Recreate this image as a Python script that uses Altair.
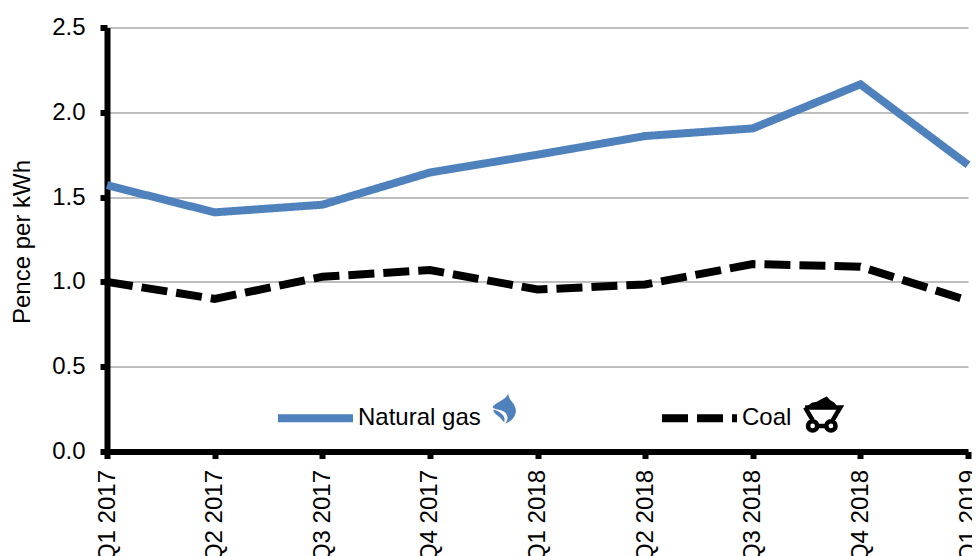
import altair as alt
import pandas as pd

quarters = ["Q1 2017", "Q2 2017", "Q3 2017", "Q4 2017", "Q1 2018", "Q2 2018", "Q3 2018", "Q4 2018", "Q1 2019"]
gas = [1.57, 1.41, 1.455, 1.645, 1.75, 1.86, 1.905, 2.165, 1.69]
coal = [1.0, 0.90, 1.03, 1.07, 0.955, 0.985, 1.105, 1.09, 0.89]
series = ["Natural gas", "Coal"]
colors = ["#4f81bd", "#000000"]
FONT = "Liberation Sans"

df = pd.DataFrame({"q": quarters * 2, "v": gas + coal, "s": ["Natural gas"] * 9 + ["Coal"] * 9})

x = alt.X("q:N", sort=quarters, title=None, scale=alt.Scale(type="point", padding=0),
          axis=alt.Axis(labelAngle=-90, labelAlign="right", labelBaseline="middle", labelFont=FONT,
                        labelFontSize=24, labelColor="#000", labelPadding=11, domainColor="#000", domainWidth=6,
                        tickColor="#000", tickWidth=6, tickSize=7, grid=False, labelOverlap=False, labelFlush=False))
y = alt.Y("v:Q", title="Pence per kWh", scale=alt.Scale(domain=[0, 2.5], nice=False),
          axis=alt.Axis(values=[0, 0.5, 1, 1.5, 2, 2.5], format=".1f", labelFont=FONT, labelFontSize=24,
                        labelColor="#000", labelPadding=15, domainColor="#000", domainWidth=6, tickColor="#000",
                        tickWidth=6, tickSize=7, grid=True, gridColor="#bfbfbf", gridWidth=2,
                        titleFont=FONT, titleFontSize=24, titleFontWeight="normal", titleColor="#000",
                        titlePadding=17, titleY=214))

lines = alt.Chart(df).mark_line(strokeWidth=8, strokeCap="butt", strokeJoin="miter").encode(
    x=x, y=y,
    color=alt.Color("s:N", scale=alt.Scale(domain=series, range=colors), legend=alt.Legend(
        title=None, orient="none", legendX=167, legendY=349, direction="horizontal", columns=2,
        symbolType="stroke", symbolSize=5625, symbolStrokeWidth=8, labelFont=FONT, labelFontSize=24,
        labelColor="#000", labelOffset=1, columnPadding=165)),
    strokeDash=alt.StrokeDash("s:N", scale=alt.Scale(domain=series, range=[[1, 0], [26, 9]]), legend=None),
)

FLAME = ("M0.26,-1.01 C0.2,-0.8 0,-0.65 -0.35,-0.45 C-0.6,-0.3 -0.75,-0.2 -0.75,-0.1 "
         "C-0.6,0.08 0.05,-0.04 0.19,0.43 C0.24,0.6 0.19,0.77 0.06,0.95 "
         "C0.58,0.77 0.85,0.3 0.71,-0.1 C0.6,-0.45 0.25,-0.6 0.26,-1.01 Z "
         "M-0.71,0.03 C-0.67,0.39 -0.28,0.43 -0.02,0.86 C0.13,0.49 -0.17,0.2 -0.71,0.03 Z")
PILE = "M-0.82,-0.36 L-0.82,-0.44 L-0.6,-0.62 L-0.33,-0.67 L-0.09,-0.8 L0.22,-0.95 L0.4,-0.76 L0.64,-0.62 L0.82,-0.4 L0.82,-0.36 Z"
CART = ("M-0.96,-0.36 L0.96,-0.36 L0.55,0.33 M-0.96,-0.36 L-0.55,0.33 "
        "M-0.8,0.65 A0.25,0.25 0 1 0 -0.3,0.65 A0.25,0.25 0 1 0 -0.8,0.65 "
        "M0.2,0.65 A0.25,0.25 0 1 0 0.7,0.65 A0.25,0.25 0 1 0 0.2,0.65 M-0.3,0.65 L0.2,0.65")
one = alt.Data(values=[{"k": 1}])
flame = alt.Chart(one).mark_point(shape=FLAME, filled=True, color="#4f81bd", size=961, opacity=1).encode(
    x=alt.value(397.3), y=alt.value(381.5))
pile = alt.Chart(one).mark_point(shape=PILE, filled=True, color="#000", size=1344, opacity=1).encode(
    x=alt.value(715.7), y=alt.value(386.5))
cart = alt.Chart(one).mark_point(shape=CART, filled=False, color="#000", strokeWidth=4.5, size=1344, opacity=1).encode(
    x=alt.value(715.7), y=alt.value(386.5))

chart = alt.layer(lines, flame, pile, cart).properties(
    width=861, height=424,
    padding={"left": 99, "top": 19.5, "right": 4, "bottom": 104},
    autosize=alt.AutoSizeParams(type="none"),
).configure_view(stroke=None)

chart.save("out.html", embed_options={"renderer": "svg", "actions": False})
